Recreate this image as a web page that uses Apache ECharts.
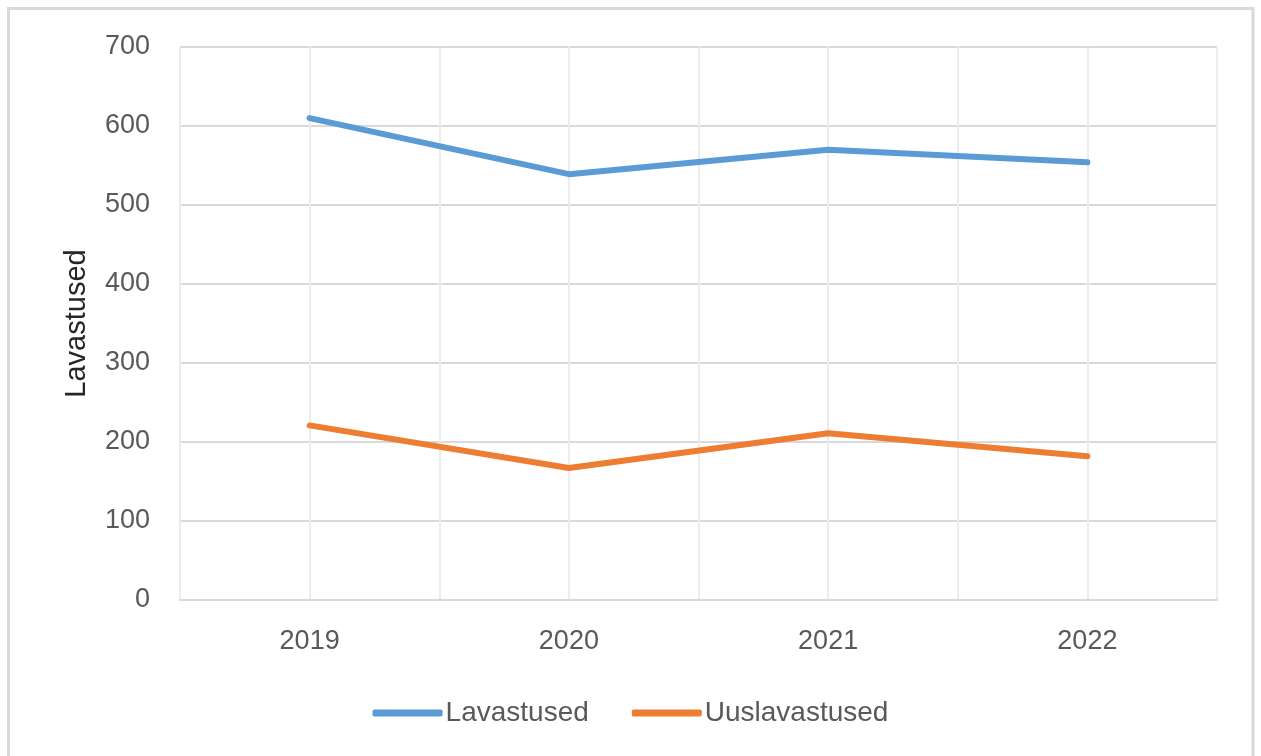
<!DOCTYPE html>
<html><head><meta charset="utf-8">
<script src="https://cdn.jsdelivr.net/npm/echarts@6/dist/echarts.min.js"></script>
<style>html,body{margin:0;padding:0;background:#fff;}#c{width:1261px;height:756px;}</style>
</head><body><div id="c"></div>
<script>
const categories = ['2019','2020','2021','2022'];
const lavastused = [610, 539, 570, 554];
const uuslavastused = [221, 167, 211, 182];
const yTicks = {min:0, max:700, interval:100};

const chart = echarts.init(document.getElementById('c'));
const font = 'Liberation Sans, Arial, sans-serif';
chart.setOption({
  animation:false,
  backgroundColor:'#fff',
  graphic:[{type:'rect', shape:{x:8.5,y:8.5,width:1244.5,height:770}, style:{fill:'none', stroke:'#d9d9d9', lineWidth:3}, z:-10}],
  grid:{left:180, right:44, top:47, bottom:156},
  legend:{
    bottom:24, left:'center',
    itemWidth:70, itemHeight:7, itemGap:43, icon:'roundRect',
    textStyle:{fontFamily:font, fontSize:28, color:'#595959', padding:[0,0,0,-2]},
    data:['Lavastused','Uuslavastused']
  },
  xAxis:[{
    type:'category', data:categories, boundaryGap:true,
    axisLine:{lineStyle:{color:'#d9d9d9', width:2}},
    axisTick:{show:false},
    splitLine:{show:false},
    axisLabel:{fontFamily:font, fontSize:27, color:'#595959', margin:28}
  },{
    type:'value', min:0, max:8, interval:1, show:true, position:'bottom',
    axisLine:{show:false}, axisTick:{show:false}, axisLabel:{show:false},
    splitLine:{show:true, lineStyle:{color:'#ececec', width:2}}
  }],
  yAxis:{
    type:'value', min:yTicks.min, max:yTicks.max, interval:yTicks.interval,
    name:'Lavastused', nameLocation:'middle', nameGap:89, nameRotate:90,
    nameTextStyle:{fontFamily:font, fontSize:29, color:'#262626'},
    axisLine:{show:false}, axisTick:{show:false},
    axisLabel:{fontFamily:font, fontSize:27, color:'#595959', margin:30},
    splitLine:{lineStyle:{color:'#d9d9d9', width:2}}
  },
  series:[
    {name:'Lavastused', type:'line', data:lavastused, xAxisIndex:0, symbol:'none', lineStyle:{width:6, color:'#5b9bd5', cap:'round'}, itemStyle:{color:'#5b9bd5'}},
    {name:'Uuslavastused', type:'line', data:uuslavastused, xAxisIndex:0, symbol:'none', lineStyle:{width:6, color:'#ed7d31', cap:'round'}, itemStyle:{color:'#ed7d31'}}
  ]
});
</script></body></html>
